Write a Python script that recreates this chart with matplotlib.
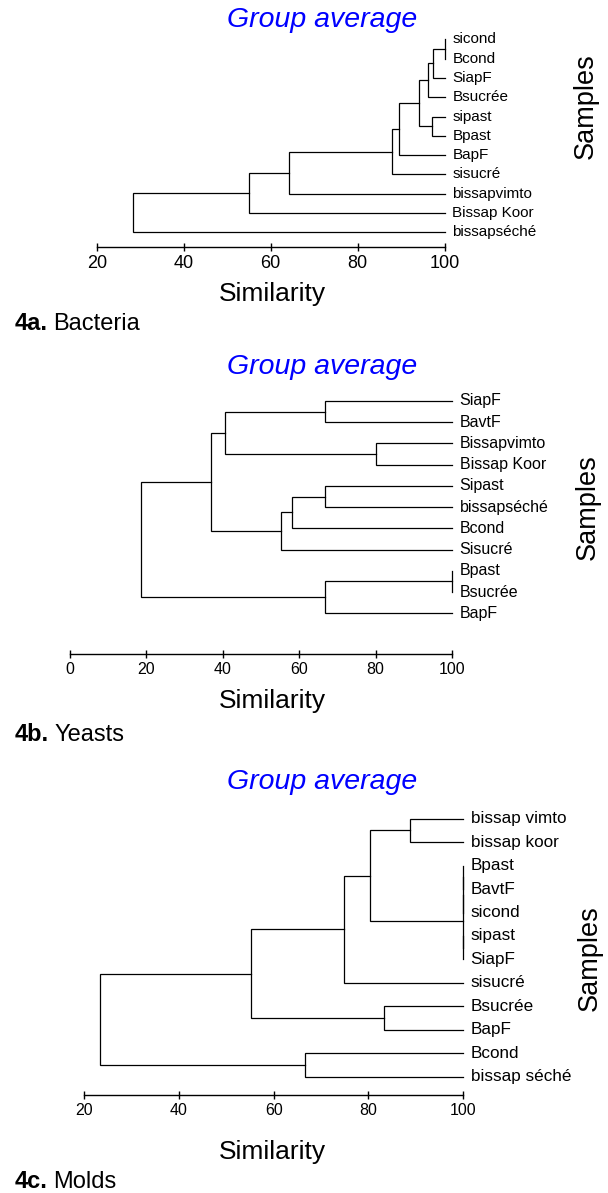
import matplotlib.pyplot as plt
import numpy as np

plt.rcParams['font.family'] = ['Liberation Sans', 'DejaVu Sans']

W, H = 608, 1193

# 4a. Bacteria : leaves top to bottom, merges (left child, right child, similarity)
a_labels = ['sicond', 'Bcond', 'SiapF', 'Bsucrée', 'sipast', 'Bpast', 'BapF',
            'sisucré', 'bissapvimto', 'Bissap Koor', 'bissapséché']
a_left = [0, 11, 12, 4, 13, 15, 16, 17, 18, 19]
a_right = [1, 2, 3, 5, 14, 6, 7, 8, 9, 10]
a_sim = [100, 97.2, 96.2, 97.0, 94.1, 89.4, 87.9, 64.3, 54.9, 28.4]
a_ticks = [20, 40, 60, 80, 100]

# 4b. Yeasts
b_labels = ['SiapF', 'BavtF', 'Bissapvimto', 'Bissap Koor', 'Sipast', 'bissapséché',
            'Bcond', 'Sisucré', 'Bpast', 'Bsucrée', 'BapF']
b_left = [0, 2, 11, 4, 14, 15, 13, 8, 18, 17]
b_right = [1, 3, 12, 5, 6, 7, 16, 9, 10, 19]
b_sim = [66.7, 80, 40.7, 66.7, 58.2, 55.3, 36.9, 100, 66.7, 18.6]
b_ticks = [0, 20, 40, 60, 80, 100]

# 4c. Molds
c_labels = ['bissap vimto', 'bissap koor', 'Bpast', 'BavtF', 'sicond', 'sipast', 'SiapF',
            'sisucré', 'Bsucrée', 'BapF', 'Bcond', 'bissap séché']
c_left = [0, 2, 13, 5, 14, 12, 17, 8, 18, 10, 20]
c_right = [1, 3, 4, 6, 15, 16, 7, 9, 19, 11, 21]
c_sim = [88.9, 100, 100, 100, 100, 80.3, 74.8, 83.4, 55.3, 66.7, 23.4]
c_ticks = [20, 40, 60, 80, 100]

fig = plt.figure(figsize=(W / 100, H / 100), dpi=100)


def fx(px):
    return px / W


def fy(py):
    return 1 - py / H


def dendro(x0, x1, xlim, y_first, y_last, y_axis, labels, left, right, sim, ticks,
           lab_size, tick_size):
    n = len(labels)
    sp = (y_last - y_first) / (n - 1)
    top = y_first - 0.5 * sp
    ax = fig.add_axes([fx(x0), fy(y_axis), (x1 - x0) / W, (y_axis - top) / H])
    ax.set_xlim(*xlim)
    ax.set_ylim((y_axis - y_first) / sp, -0.5)
    xs = [xlim[1]] * n
    ys = list(range(n))
    # each merge: horizontal arms from the children to the node, joined by a vertical
    for l, r, s in zip(left, right, sim):
        ax.plot([xs[l], s, s, xs[r]], [ys[l], ys[l], ys[r], ys[r]],
                color='black', lw=0.9, clip_on=False, solid_joinstyle='miter')
        xs.append(s)
        ys.append((ys[l] + ys[r]) / 2)
    for i, lab in enumerate(labels):
        ax.annotate(lab, (xlim[1], i), xytext=(5.5, 0), textcoords='offset points',
                    va='center', ha='left', fontsize=lab_size)
    for s in ['left', 'right', 'top']:
        ax.spines[s].set_visible(False)
    ax.spines['bottom'].set_linewidth(1)
    ax.set_yticks([])
    ax.set_xticks(ticks)
    ax.tick_params(axis='x', direction='inout', length=6, width=1, pad=3,
                   labelsize=tick_size)
    ax.patch.set_visible(False)
    return ax


dendro(96.7, 444.7, (20, 100), 39.3, 232.3, 247, a_labels, a_left, a_right, a_sim,
       a_ticks, 11, 13)
dendro(70, 452, (0, 100), 401, 613.3, 654, b_labels, b_left, b_right, b_sim,
       b_ticks, 11.5, 11.5)
dendro(84.3, 463, (20, 100), 818.7, 1076.7, 1094.5, c_labels, c_left, c_right, c_sim,
       c_ticks, 12.3, 11.5)


def panel_text(title_y, sim_y, samp_x, samp_y, cap_y, tag, name):
    fig.text(fx(322), fy(title_y), 'Group average', color='#0000ff', style='italic',
             fontsize=20.5, ha='center', va='center')
    fig.text(fx(272), fy(sim_y), 'Similarity', fontsize=19, ha='center', va='center')
    fig.text(fx(samp_x), fy(samp_y), 'Samples', fontsize=19.5, rotation=90,
             ha='center', va='center')
    t = fig.text(fx(15), fy(cap_y), tag, fontsize=17, fontweight='bold',
                 ha='left', va='baseline')
    fig.text(0, 0, '')
    plt.annotate(name, xy=(1, 0), xycoords=t, xytext=(4, 0), textcoords='offset points',
                 fontsize=17, ha='left', va='bottom')


panel_text(20, 294, 586, 106, 330, '4a.', 'Bacteria')
panel_text(367, 701, 588, 507, 741, '4b.', 'Yeasts')
panel_text(782, 1152, 590, 958, 1188, '4c.', 'Molds')

fig.savefig('out.png', dpi=100)
